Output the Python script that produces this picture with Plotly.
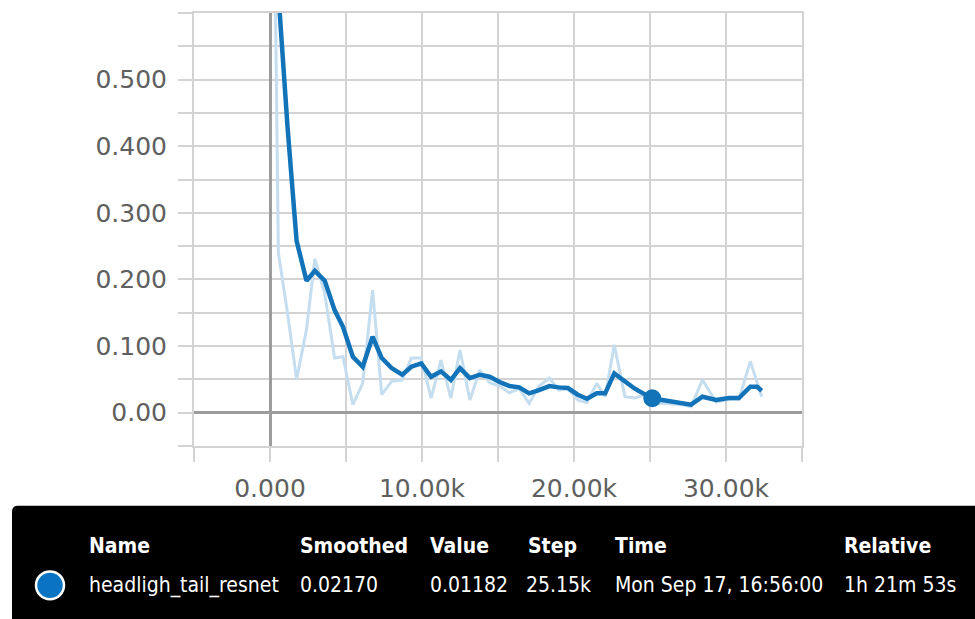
import plotly.graph_objects as go

# ---------------- data ----------------
steps = [0, 550, 1150, 1750, 2400, 2950, 3600, 4250, 4800, 5450, 6100, 6750, 7350,
         8000, 8700, 9300, 9950, 10600, 11250, 11900, 12500, 13150, 13800, 14450,
         15100, 15750, 16400, 17050, 17700, 18380, 19000, 19600, 20250, 20850,
         21500, 22050, 22650, 23350, 24000, 24550, 25150, 25800, 26500, 27100,
         27700, 28450, 29350, 30200, 30850, 31600, 32050, 32350]
raw_values = [1.32, 0.24, 0.15, 0.05, 0.125, 0.231, 0.179, 0.082, 0.084, 0.012, 0.044,
              0.184, 0.027, 0.047, 0.049, 0.082, 0.082, 0.022, 0.079, 0.022, 0.094,
              0.019, 0.064, 0.045, 0.040, 0.030, 0.036, 0.014, 0.040, 0.052, 0.034,
              0.036, 0.019, 0.015, 0.044, 0.024, 0.102, 0.024, 0.022, 0.026, 0.01182,
              0.014, 0.013, 0.012, 0.009, 0.049, 0.016, 0.020, 0.020, 0.077, 0.045,
              0.024]
smoothed_values = [1.32, 0.63, 0.43, 0.258, 0.198, 0.213, 0.198, 0.154, 0.129, 0.084,
                   0.069, 0.114, 0.082, 0.067, 0.057, 0.069, 0.074, 0.054, 0.062, 0.049,
                   0.067, 0.052, 0.057, 0.054, 0.046, 0.040, 0.038, 0.029, 0.034, 0.040,
                   0.038, 0.037, 0.027, 0.021, 0.029, 0.029, 0.059, 0.046, 0.036, 0.029,
                   0.0217, 0.019, 0.016, 0.014, 0.012, 0.024, 0.019, 0.022, 0.022, 0.039,
                   0.039, 0.033]

highlight_step = [25150]
highlight_value = [0.0217]

x_tick_vals = [0, 10000, 20000, 30000]
x_tick_text = ["0.000", "10.00k", "20.00k", "30.00k"]
y_tick_vals = [0.0, 0.1, 0.2, 0.3, 0.4, 0.5]
y_tick_text = ["0.00", "0.100", "0.200", "0.300", "0.400", "0.500"]

table_headers = ["Name", "Smoothed", "Value", "Step", "Time", "Relative"]
table_row = ["headligh_tail_resnet", "0.02170", "0.01182", "25.15k",
             "Mon Sep 17, 16:56:00", "1h 21m 53s"]

# ---------------- style ----------------
W, H = 975, 619
ML, MR, MT, MB = 194, 173, 11, 173
PW, PH = W - ML - MR, H - MT - MB
BLUE = "#1373b9"
LIGHT = "#c4ddef"
GRID = "#d3d3d3"
ZERO = "#9c9c9c"
TICKFONT = dict(family="DejaVu Sans", size=25, color="#5f5f5f")
TABLEFONT = "DejaVu Sans Condensed, Liberation Sans Narrow, Roboto, Arial"


def xp(px):
    return (px - ML) / PW


def yp(py):
    return (H - MB - py) / PH


fig = go.Figure()
fig.add_trace(go.Scatter(x=steps, y=raw_values, mode="lines",
                         line=dict(color=LIGHT, width=3), hoverinfo="skip"))
fig.add_trace(go.Scatter(x=steps, y=smoothed_values, mode="lines",
                         line=dict(color=BLUE, width=4.5), hoverinfo="skip"))
fig.add_trace(go.Scatter(x=highlight_step, y=highlight_value, mode="markers",
                         marker=dict(color=BLUE, size=18), hoverinfo="skip"))

axis_common = dict(showgrid=True, gridcolor=GRID, gridwidth=2,
                   ticks="outside", ticklen=14, tickwidth=2, tickcolor=GRID,
                   showline=True, mirror=True, linecolor=GRID, linewidth=2,
                   zeroline=True, zerolinecolor=ZERO, zerolinewidth=3,
                   tickfont=TICKFONT, fixedrange=True)

fig.update_xaxes(range=[-5000, 35000], tickmode="array", tickvals=x_tick_vals,
                 ticktext=x_tick_text, ticklabelstandoff=5,
                 minor=dict(dtick=5000, tick0=0, ticks="outside", ticklen=14,
                            tickwidth=2, tickcolor=GRID, showgrid=True,
                            gridcolor=GRID, gridwidth=2),
                 **axis_common)
fig.update_yaxes(range=[-0.05, 0.6], tickmode="array", tickvals=y_tick_vals,
                 ticktext=y_tick_text, ticklabelstandoff=6,
                 minor=dict(dtick=0.05, tick0=0, ticks="outside", ticklen=14,
                            tickwidth=2, tickcolor=GRID, showgrid=True,
                            gridcolor=GRID, gridwidth=2),
                 **axis_common)

# ---------------- bottom table ----------------
bx0, bx1, by0, by1, r = 12, 990, 506, 640, 6
path = (f"M {xp(bx0)},{yp(by1)} L {xp(bx0)},{yp(by0 + r)} "
        f"Q {xp(bx0)},{yp(by0)} {xp(bx0 + r)},{yp(by0)} "
        f"L {xp(bx1)},{yp(by0)} L {xp(bx1)},{yp(by1)} Z")
shapes = [dict(type="path", xref="paper", yref="paper", path=path,
               fillcolor="#000000", line=dict(width=0), layer="above"),
          dict(type="circle", xref="paper", yref="paper",
               x0=xp(36), x1=xp(64), y0=yp(572), y1=yp(600),
               fillcolor="#0a74c2", line=dict(color="#ffffff", width=2.5),
               layer="above")]

col_x = [87, 298, 428, 526, 613, 842]
row_x = [87, 298, 428, 524, 613, 842]
annotations = []
for cx, txt in zip(col_x, table_headers):
    annotations.append(dict(x=xp(cx), y=yp(546), xref="paper", yref="paper",
                            text=f"<b>{txt}</b>", showarrow=False,
                            xanchor="left", yanchor="middle",
                            font=dict(family=TABLEFONT, size=21, color="#ffffff")))
for cx, txt in zip(row_x, table_row):
    annotations.append(dict(x=xp(cx), y=yp(586), xref="paper", yref="paper",
                            text=txt, showarrow=False,
                            xanchor="left", yanchor="middle",
                            font=dict(family=TABLEFONT, size=21, color="#ffffff")))

fig.update_layout(width=W, height=H, margin=dict(l=ML, r=MR, t=MT, b=MB),
                  plot_bgcolor="#ffffff", paper_bgcolor="#ffffff",
                  showlegend=False, shapes=shapes, annotations=annotations)

fig.write_html("out.html", config={"displayModeBar": False},
               post_script="document.body.style.margin='0';"
                           "document.body.style.overflow='hidden';")
